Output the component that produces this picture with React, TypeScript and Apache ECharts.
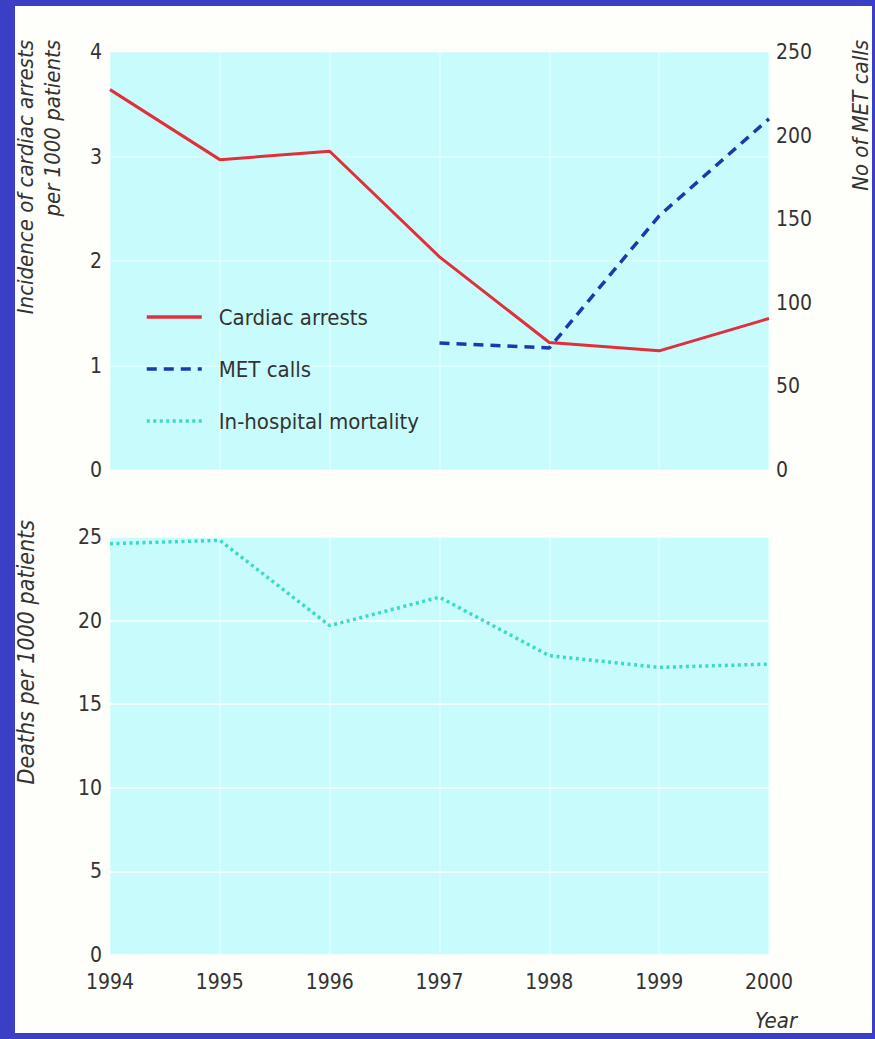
import React, { useEffect, useRef } from "react";
import * as echarts from "echarts";

const years = ["1994", "1995", "1996", "1997", "1998", "1999", "2000"];
const cardiacArrests = [3.64, 2.97, 3.05, 2.04, 1.22, 1.14, 1.45];
const metCalls = [null, null, null, 76, 73, 152, 210];
const mortality = [24.6, 24.8, 19.7, 21.4, 17.9, 17.2, 17.4];

const leftTopTicks = { min: 0, max: 4, interval: 1 };
const rightTopTicks = { min: 0, max: 250, interval: 50 };
const bottomTicks = { min: 0, max: 25, interval: 5 };

const FONT = "'Liberation Sans Narrow', 'DejaVu Sans Condensed', sans-serif";
const BLUE = "#3a3fc6";
const CYAN = "#c8fbfb";
const TXT = "#333333";

export default function App() {
  const ref = useRef<HTMLDivElement>(null);
  useEffect(() => {
    if (!ref.current) return;
    const chart = echarts.init(ref.current, null, { renderer: "svg" });
    const label = { color: TXT, fontSize: 21, fontFamily: FONT };
    const faint = { show: true, lineStyle: { color: "#ffffff", width: 2, opacity: 0.35 } };
    const split = { show: true, lineStyle: { color: "#ffffff", width: 2, opacity: 0.75 } };
    chart.setOption({
      animation: false,
      backgroundColor: "#fefefa",
      grid: [
        { left: 110, top: 52, width: 659, height: 418, show: true, backgroundColor: CYAN, borderWidth: 0 },
        { left: 110, top: 537, width: 659, height: 418, show: true, backgroundColor: CYAN, borderWidth: 0 },
      ],
      xAxis: [
        {
          gridIndex: 0, type: "category", data: years, boundaryGap: false,
          axisLine: { show: false }, axisTick: { show: false }, axisLabel: { show: false },
          splitLine: faint,
        },
        {
          gridIndex: 1, type: "category", data: years, boundaryGap: false,
          axisLine: { show: false }, axisTick: { show: false },
          axisLabel: { ...label, margin: 16 },
          splitLine: faint,
        },
      ],
      yAxis: [
        {
          gridIndex: 0, type: "value", ...leftTopTicks,
          axisLine: { show: false }, axisTick: { show: false },
          axisLabel: { ...label, margin: 8 }, splitLine: faint,
        },
        {
          gridIndex: 0, type: "value", position: "right", ...rightTopTicks,
          axisLine: { show: false }, axisTick: { show: false },
          axisLabel: { ...label, margin: 7 }, splitLine: { show: false },
        },
        {
          gridIndex: 1, type: "value", ...bottomTicks,
          axisLine: { show: false }, axisTick: { show: false },
          axisLabel: { ...label, margin: 8 }, splitLine: split,
        },
      ],
      legend: {
        orient: "vertical", left: 145, top: 306, padding: 0,
        itemWidth: 55, itemHeight: 14, itemGap: 30,
        itemStyle: { opacity: 0 },
        lineStyle: { width: 3.5 },
        textStyle: { color: TXT, fontSize: 22, fontFamily: FONT, padding: [0, 0, 0, 12] },
        data: ["Cardiac arrests", "MET calls", "In-hospital mortality"],
      },
      series: [
        {
          name: "Cardiac arrests", type: "line", xAxisIndex: 0, yAxisIndex: 0,
          data: cardiacArrests, symbol: "none",
          lineStyle: { color: "#e0303c", width: 3 }, itemStyle: { color: "#e0303c" },
        },
        {
          name: "MET calls", type: "line", xAxisIndex: 0, yAxisIndex: 1,
          data: metCalls, symbol: "none", connectNulls: false,
          lineStyle: { color: "#1c3aae", width: 3.5, type: [10, 7] }, itemStyle: { color: "#1c3aae" },
        },
        {
          name: "In-hospital mortality", type: "line", xAxisIndex: 1, yAxisIndex: 2,
          data: mortality, symbol: "none",
          lineStyle: { color: "#3cd9c6", width: 3.5, type: [3, 3.5] }, itemStyle: { color: "#3cd9c6" },
        },
      ],
      graphic: [
        {
          type: "text", x: 39, y: 40, rotation: Math.PI / 2, z: 10,
          style: {
            text: "Incidence of cardiac arrests\nper 1000 patients",
            align: "right", verticalAlign: "middle", lineHeight: 27,
            fill: TXT, font: `italic 22px ${FONT}`,
          },
        },
        {
          type: "text", x: 860, y: 40, rotation: Math.PI / 2, z: 10,
          style: {
            text: "No of MET calls", align: "right", verticalAlign: "middle",
            fill: TXT, font: `italic 22px ${FONT}`,
          },
        },
        {
          type: "text", x: 26, y: 520, rotation: Math.PI / 2, z: 10,
          style: {
            text: "Deaths per 1000 patients", align: "right", verticalAlign: "middle",
            fill: TXT, font: `italic 23px ${FONT}`,
          },
        },
        {
          type: "text", x: 776, y: 1020, z: 10,
          style: {
            text: "Year", align: "center", verticalAlign: "middle",
            fill: TXT, font: `italic 22px ${FONT}`,
          },
        },
        { type: "rect", z: 100, shape: { x: 0, y: 0, width: 875, height: 6 }, style: { fill: BLUE } },
        { type: "rect", z: 100, shape: { x: 0, y: 0, width: 15, height: 1039 }, style: { fill: BLUE } },
        { type: "rect", z: 100, shape: { x: 872, y: 0, width: 3, height: 1039 }, style: { fill: BLUE } },
        { type: "rect", z: 100, shape: { x: 0, y: 1033, width: 875, height: 6 }, style: { fill: BLUE } },
      ],
    });
    return () => chart.dispose();
  }, []);
  return (
    <div
      ref={ref}
      style={{ position: "fixed", left: 0, top: 0, width: 875, height: 1039 }}
    />
  );
}
